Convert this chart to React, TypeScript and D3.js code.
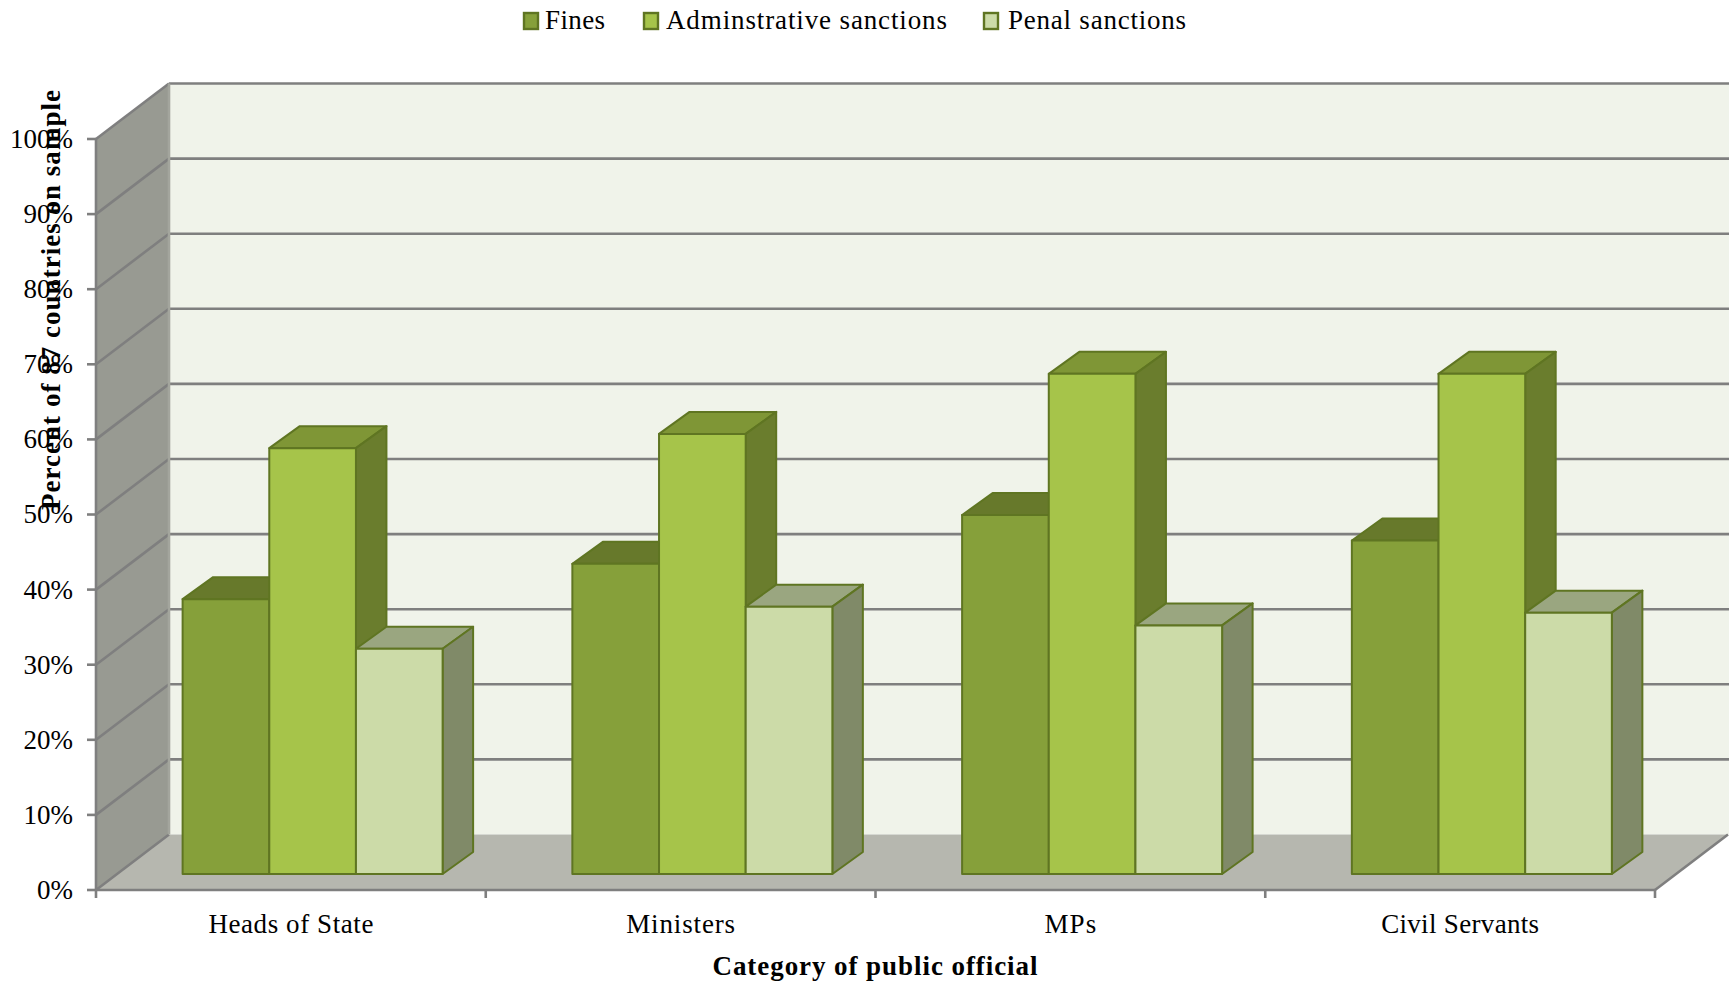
import React from "react";
import * as d3 from "d3";

const categories = ["Heads of State", "Ministers", "MPs", "Civil Servants"];
const seriesNames = ["Fines", "Adminstrative sanctions", "Penal sanctions"];
const fines = [36.6, 41.3, 47.8, 44.4];
const administrative = [56.7, 58.6, 66.6, 66.6];
const penal = [30.0, 35.6, 33.1, 34.8];
const yTicks = [0, 10, 20, 30, 40, 50, 60, 70, 80, 90, 100];

const WIDTH = 1729;
const HEIGHT = 981;
const FONT = "'Liberation Serif', serif";
const FONT_SIZE = 27;

// Projection of the 3D box: the floor recedes by this offset at full depth.
const wallDx = 73;
const wallDy = -55.5;
// Bars stand in the middle of the floor with this much depth of their own.
const barDx = 30.5;
const barDy = -22;
const barFrontDy = -16;

const GRID = "#7f7f7f";
const EDGE = "#5f7522";

const palettes = [
  { front: "#86a03a", top: "#67792b", side: "#67792b" },
  { front: "#a6c44a", top: "#7f9636", side: "#6a7d2d" },
  { front: "#ccdba8", top: "#9aa680", side: "#808a68" },
];

const seriesValues = [fines, administrative, penal];

// Rendered text widths, so labels occupy the same run as the chart's wider typeface.
const categoryWidths = [165, 109, 52, 158];
const legendLayout = [
  { swatch: 524, text: 545, length: 60 },
  { swatch: 644, text: 666, length: 281 },
  { swatch: 984, text: 1008, length: 178 },
];

const y = d3.scaleLinear().domain([0, 100]).range([890, 139]);
const x = d3.scaleBand<string>().domain(categories).range([96, 1655]);
const bars = d3.scaleBand<number>().domain([0, 1, 2]).range([0, 260]);

const poly = d3.line();

function Bar({ left, width, value, palette }: { left: number; width: number; value: number; palette: (typeof palettes)[number] }) {
  const base = y(0) + barFrontDy;
  const top = base - (y(0) - y(value));
  const right = left + width;
  return (
    <g stroke={EDGE} strokeWidth={2} strokeLinejoin="round">
      <path
        d={poly([[left, top], [right, top], [right + barDx, top + barDy], [left + barDx, top + barDy]]) + "Z"}
        fill={palette.top}
      />
      <path
        d={poly([[right, top], [right + barDx, top + barDy], [right + barDx, base + barDy], [right, base]]) + "Z"}
        fill={palette.side}
      />
      <rect x={left} y={top} width={width} height={base - top} fill={palette.front} />
    </g>
  );
}

export default function App() {
  const x0 = x.range()[0];
  const x1 = x.range()[1];
  const backLeft = x0 + wallDx;
  const floorBack = y(0) + wallDy;
  const wallTop = y(100) + wallDy;

  return (
    <svg
      width={WIDTH}
      height={HEIGHT}
      viewBox={`0 0 ${WIDTH} ${HEIGHT}`}
      style={{ position: "absolute", left: 0, top: 0, display: "block" }}
      fontFamily={FONT}
      fill="#000"
    >
      <rect width={WIDTH} height={HEIGHT} fill="#fff" />

      {/* Walls and floor */}
      <rect x={backLeft} y={wallTop} width={WIDTH - backLeft} height={floorBack - wallTop} fill="#f0f3ea" />
      <path
        d={poly([[x0, y(100)], [backLeft, wallTop], [backLeft, floorBack], [x0, y(0)]]) + "Z"}
        fill="#989a92"
      />
      <path
        d={poly([[x0, y(0)], [backLeft, floorBack], [x1 + wallDx, floorBack], [x1, y(0)]]) + "Z"}
        fill="#b6b7af"
      />

      {/* Gridlines folded over the side and back walls */}
      {yTicks.map((t) => (
        <g key={t} stroke={GRID} strokeWidth={2.6} fill="none">
          {t > 0 && <line x1={backLeft} x2={WIDTH} y1={y(t) + wallDy} y2={y(t) + wallDy} />}
          <line x1={x0} x2={backLeft} y1={y(t)} y2={y(t) + wallDy} />
          <line x1={x0 - 9} x2={x0} y1={y(t)} y2={y(t)} />
        </g>
      ))}
      <g stroke={GRID} strokeWidth={2.6} fill="none">
        <line x1={x0} x2={x0} y1={y(100)} y2={y(0) + 8} />
        <line x1={backLeft} x2={backLeft} y1={wallTop} y2={floorBack} stroke="#a3a59d" />
        <line x1={x0} x2={x1} y1={y(0)} y2={y(0)} />
        <line x1={x1} x2={x1 + wallDx} y1={y(0)} y2={floorBack} />
        {categories.map((c) => (
          <line key={c} x1={(x(c) as number) + x.bandwidth()} x2={(x(c) as number) + x.bandwidth()} y1={y(0)} y2={y(0) + 8} />
        ))}
      </g>

      {/* Bars, painted left to right so each one overlaps its neighbour's side */}
      {categories.map((c, i) => {
        const centre = (x(c) as number) + x.bandwidth() / 2 + (barFrontDy * wallDx) / -55;
        return (
          <g key={c}>
            {seriesValues.map((values, s) => (
              <Bar
                key={s}
                left={centre - 129.5 + (bars(s) as number)}
                width={bars.bandwidth()}
                value={values[i]}
                palette={palettes[s]}
              />
            ))}
          </g>
        );
      })}

      {/* Value axis labels */}
      {yTicks.map((t) => (
        <text key={t} x={73} y={y(t)} dy="0.33em" textAnchor="end" fontSize={FONT_SIZE}>
          {t}%
        </text>
      ))}

      {/* Category labels */}
      {categories.map((c, i) => (
        <text
          key={c}
          x={(x(c) as number) + x.bandwidth() / 2}
          y={924}
          dy="0.33em"
          textAnchor="middle"
          fontSize={FONT_SIZE}
          textLength={categoryWidths[i]}
        >
          {c}
        </text>
      ))}

      {/* Axis titles */}
      <text x={875} y={966} dy="0.33em" textAnchor="middle" fontSize={FONT_SIZE} fontWeight="bold" textLength={325}>
        Category of public official
      </text>
      <text
        transform="translate(51,300) rotate(-90)"
        dy="0.33em"
        textAnchor="middle"
        fontSize={FONT_SIZE}
        fontWeight="bold"
        textLength={420}
      >
        Percent of 87 countries on sample
      </text>

      {/* Legend */}
      {seriesNames.map((name, s) => (
        <g key={name}>
          <rect
            x={legendLayout[s].swatch}
            y={13}
            width={14}
            height={16}
            fill={palettes[s].front}
            stroke={EDGE}
            strokeWidth={2.4}
          />
          <text x={legendLayout[s].text} y={20} dy="0.33em" fontSize={FONT_SIZE} textLength={legendLayout[s].length}>
            {name}
          </text>
        </g>
      ))}
    </svg>
  );
}
